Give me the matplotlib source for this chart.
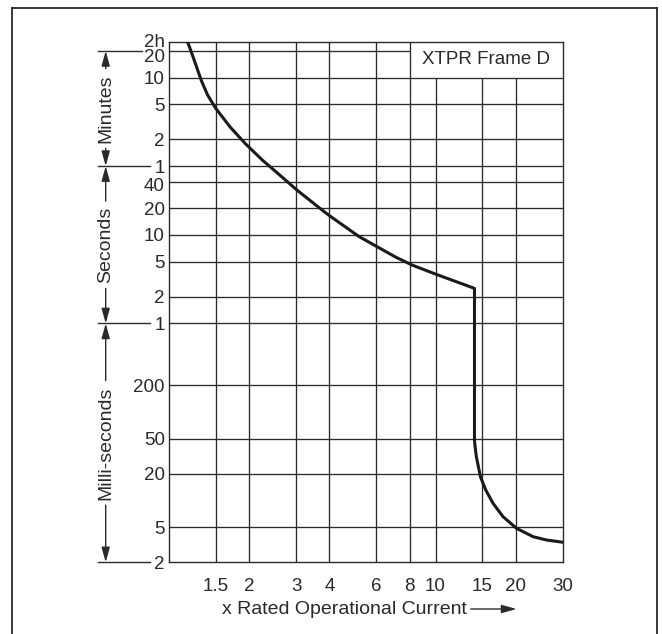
import numpy as np
import matplotlib
matplotlib.use("Agg")
import matplotlib.pyplot as plt
import matplotlib.ticker as ticker
from matplotlib.lines import Line2D
from matplotlib.text import OffsetFrom
from matplotlib.transforms import ScaledTranslation, blended_transform_factory

plt.rcParams["font.family"] = ["Liberation Sans", "DejaVu Sans"]

# trip curve: multiple of rated current vs trip time (seconds)
curve_x = [1.175, 1.209, 1.323, 1.394, 1.494, 1.701, 1.938, 2.238, 2.513, 2.902, 3.05,
           3.878, 4.059, 5.175, 6.19, 7.11, 8.17, 10.06, 14.0,
           14.0, 14.05, 14.23, 14.74, 15.43, 16.43, 17.92, 20.13, 23.25, 26.12, 30.0]
curve_t = [7200, 1200, 553, 384, 272, 164, 107, 70.3, 52.1, 35.7, 31.4,
           17.7, 16.0, 9.55, 7.06, 5.59, 4.57, 3.59, 2.49,
           0.0482, 0.0422, 0.0312, 0.01853, 0.01312, 0.00929, 0.00655, 0.00484,
           0.00389, 0.00357, 0.00337]

x_ticks = [1.5, 2, 3, 4, 6, 8, 10, 15, 20, 30]
x_labels = ["1.5", "2", "3", "4", "6", "8", "10", "15", "20", "30"]

y_ticks = [0.002, 0.005, 0.02, 0.05, 0.2, 1, 2, 5, 10, 20, 40, 60, 120, 300, 600, 1200, 7200]
y_labels = ["2", "5", "20", "50", "200", "1", "2", "5", "10", "20", "40",
            "1", "2", "5", "10", "20", "2h"]

sections = [("Minutes", 60, 1200), ("Seconds", 1, 60), ("Milli-seconds", 0.002, 1)]
title = "XTPR Frame D"

# log time axis, squeezed above 20 min so 2h sits right at the top
BRK = np.log10(1200)
K = 0.126


def fwd(t):
    lt = np.log10(np.clip(t, 1e-12, None))
    return np.where(lt <= BRK, lt, BRK + (lt - BRK) * K)


def inv(y):
    y = np.asarray(y, dtype=float)
    return np.where(y <= BRK, 10.0 ** y, 10.0 ** (BRK + (y - BRK) / K))


INK = "#2a2a2a"

fig = plt.figure(figsize=(6.62, 6.34), dpi=100)
ax = fig.add_axes([0.2553, 0.1131, 0.5947, 0.8202])
ax.set_xscale("log")
ax.set_yscale("function", functions=(fwd, inv))
ax.set_xlim(1, 30)
ax.set_ylim(0.002, 7200)

for s in ax.spines.values():
    s.set_edgecolor(INK)
    s.set_linewidth(1.0)

# grid, with the corner box left open for the title
for xv in x_ticks[:-1]:
    top = 600 if xv > 8 else 7200
    ax.vlines(xv, 0.002, top, color=INK, linewidth=0.95, zorder=1)
for yv in y_ticks[1:-1]:
    right = 8 if yv > 600 else 30
    ax.hlines(yv, 1, right, color=INK, linewidth=0.95, zorder=1)

ax.plot(curve_x, curve_t, color="#1a1a1a", linewidth=2.2, zorder=3,
        solid_joinstyle="round")

ax.text(np.sqrt(8 * 30), inv((fwd(600) + fwd(7200)) / 2), title,
        ha="center", va="center", fontsize=13.5, color=INK)

ax.xaxis.set_major_locator(ticker.FixedLocator(x_ticks))
ax.xaxis.set_minor_locator(ticker.NullLocator())
ax.set_xticklabels(x_labels)
ax.yaxis.set_major_locator(ticker.FixedLocator(y_ticks))
ax.yaxis.set_minor_locator(ticker.NullLocator())
ax.set_yticklabels(y_labels)
ax.tick_params(axis="x", length=0, pad=11, labelsize=13.5, colors=INK)
ax.tick_params(axis="y", length=0, pad=3, labelsize=13.5, colors=INK)

# nudge the crowded labels at the top
nudges = {16: 1.5, 15: -3.6, 10: -2.2}
for i, lab in enumerate(ax.get_yticklabels()):
    if i in nudges:
        lab.set_transform(lab.get_transform() +
                          ScaledTranslation(0, nudges[i] / 72, fig.dpi_scale_trans))

# section markers on the left
side = blended_transform_factory(fig.transFigure, ax.transData)
fx_arrow = 105.7 / 662
fx0 = 97.7 / 662
for yv, xend in [(1200, 141.7), (60, 150), (1, 150), (0.002, 150)]:
    ax.add_line(Line2D([fx0, xend / 662], [yv, yv], color=INK, linewidth=1.0,
                       transform=side, clip_on=False))

arrow = dict(arrowstyle="-|>,head_length=0.9,head_width=0.25", color=INK,
             linewidth=1.0, mutation_scale=10, shrinkA=0, shrinkB=0)
for name, lo, hi in sections:
    t = ax.text(fx_arrow, np.sqrt(lo * hi), name, rotation=90, ha="center", va="center",
                fontsize=14, color=INK, transform=side)
    ax.annotate("", xy=(fx_arrow, hi), xycoords=("figure fraction", "data"),
                xytext=(0, 4), textcoords=OffsetFrom(t, (0.5, 1.0)),
                arrowprops=arrow, annotation_clip=False)
    ax.annotate("", xy=(fx_arrow, lo), xycoords=("figure fraction", "data"),
                xytext=(0, -4), textcoords=OffsetFrom(t, (0.5, 0.0)),
                arrowprops=arrow, annotation_clip=False)

xl = fig.text(221.7 / 662, 1 - 609 / 634, "x Rated Operational Current",
              ha="left", va="center", fontsize=14, color=INK)
ax.annotate("", xy=(36, 0), xycoords=OffsetFrom(xl, (1.0, 0.5)),
            xytext=(3, 0), textcoords=OffsetFrom(xl, (1.0, 0.5)),
            arrowprops=arrow, annotation_clip=False)

# outer frame, open at the bottom
for xs, ys in [([11.7, 11.7], [0, 626.5]), ([11.7, 657], [626.5, 626.5]),
               ([657, 657], [626.5, 0])]:
    fig.add_artist(Line2D([v / 662 for v in xs], [v / 634 for v in ys],
                          color=INK, linewidth=1.3, transform=fig.transFigure))

fig.savefig("out.png", dpi=100, facecolor="white")
